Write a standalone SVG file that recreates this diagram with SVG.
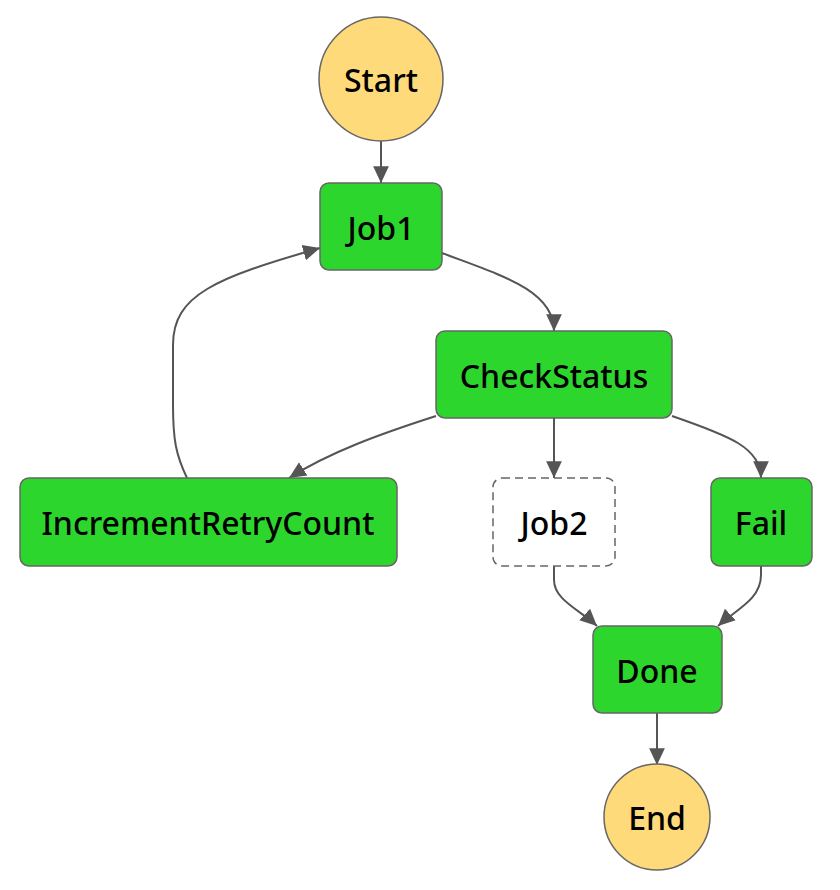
<svg xmlns="http://www.w3.org/2000/svg" width="840" height="890" viewBox="0 0 840 890">
<defs>
<style>
.term{fill:#ffda7a;stroke:#666;stroke-width:1.5}
.task{fill:#2dd62d;stroke:#666;stroke-width:1.5}
.dash{fill:#fff;stroke:#666;stroke-width:1.5;stroke-dasharray:8 5}
.lbl{font-family:"Noto Sans","Open Sans",sans-serif;font-size:32px;font-weight:500;fill:#000;text-anchor:middle;dominant-baseline:central}
.edge{fill:none;stroke:#555;stroke-width:2;marker-end:url(#ah)}
</style>
<marker id="ah" markerUnits="userSpaceOnUse" markerWidth="18" markerHeight="18" viewBox="0 0 16 16" refX="15" refY="8" orient="auto">
<path d="M0,1 L15,8 L0,15 Z" fill="#555"/>
</marker>
</defs>
<g id="connectors">
<path class="edge" d="M381,141 L381,183"/>
<path class="edge" d="M442,253 C500,275 554,290 554,331"/>
<path class="edge" d="M554,418 L554,478"/>
<path class="edge" d="M672,416 C730,436 761,448 761,478"/>
<path class="edge" d="M436,416 C380,434 330,452 289,478"/>
<path class="edge" d="M187,478 C176,455 173,440 173,405 L173,345 C173,295 215,278 320,248"/>
<path class="edge" d="M554,566 L554,580 C554,600 580,610 597,626"/>
<path class="edge" d="M761,566 L761,575 C761,600 735,610 718,626"/>
<path class="edge" d="M657,713 L657,765"/>
</g>
<g id="Start"><circle class="term" cx="381" cy="79" r="62"/><text class="lbl" x="381" y="79">Start</text></g>
<g id="Job1"><rect class="task" x="320" y="183" width="122" height="87" rx="9"/><text class="lbl" x="381" y="227">Job1</text></g>
<g id="CheckStatus"><rect class="task" x="436" y="331" width="236" height="87" rx="9"/><text class="lbl" x="554" y="375">CheckStatus</text></g>
<g id="IncrementRetryCount"><rect class="task" x="20" y="478" width="377" height="88" rx="9"/><text class="lbl" x="208" y="522">IncrementRetryCount</text></g>
<g id="Job2"><rect class="dash" x="493" y="478" width="122" height="88" rx="9"/><text class="lbl" x="554" y="522">Job2</text></g>
<g id="Fail"><rect class="task" x="711" y="478" width="101" height="88" rx="9"/><text class="lbl" x="761" y="522">Fail</text></g>
<g id="Done"><rect class="task" x="593" y="626" width="129" height="87" rx="9"/><text class="lbl" x="657" y="670">Done</text></g>
<g id="End"><circle class="term" cx="657" cy="817" r="53"/><text class="lbl" x="657" y="817">End</text></g>
</svg>
